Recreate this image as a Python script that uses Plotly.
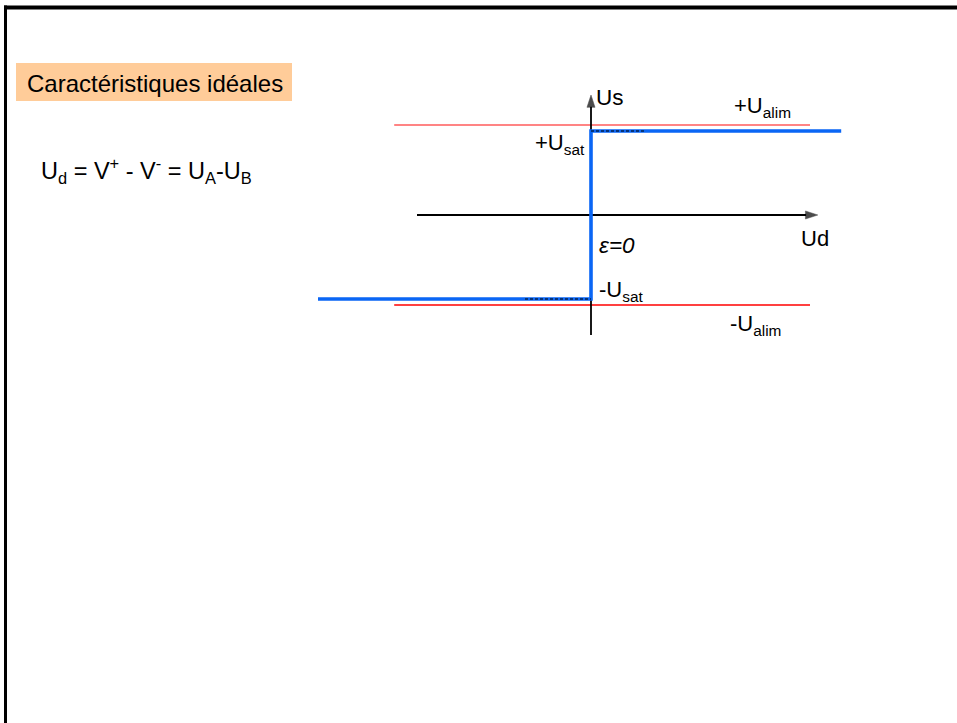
import plotly.graph_objects as go

# ---- data (schematic units: volts) ----
ud_curve = [-45.5, 0, 0, 41.7]        # ideal transfer characteristic Us = f(Ud)
us_curve = [-14, -14, 14, 14]
u_sat = 14
u_alim = 15
alim_x = [-32.8, 36.5]                # extent of supply lines
ud_axis = [-29, 37.8]
us_axis = [-20, 20]
dash_pos_x = [0, 9]
dash_neg_x = [-11, 0]

W, H = 957, 723
OX, OY, S = 591, 215, 6.0             # origin pixel + px per unit (layout only)


def ux(px):
    return (px - OX) / S


def vy(py):
    return (OY - py) / S


FONT = "Liberation Sans, Arial, sans-serif"
fig = go.Figure()

# supply rails
fig.add_trace(go.Scatter(x=alim_x, y=[u_alim, u_alim], mode="lines",
                         line=dict(color="#FF8484", width=2), hoverinfo="skip"))
fig.add_trace(go.Scatter(x=alim_x, y=[-u_alim, -u_alim], mode="lines",
                         line=dict(color="#FF0000", width=1.5), hoverinfo="skip"))

# axes with arrows
arrow_marker = dict(symbol="arrow", size=[0, 13], angleref="previous", color="black",
                    line=dict(width=0.5, color="black"))
fig.add_trace(go.Scatter(x=ud_axis, y=[0, 0], mode="lines+markers",
                         line=dict(color="black", width=1.8),
                         marker=arrow_marker, hoverinfo="skip"))
fig.add_trace(go.Scatter(x=[0, 0], y=us_axis, mode="lines+markers",
                         line=dict(color="black", width=1.8),
                         marker=arrow_marker, hoverinfo="skip"))

# characteristic
fig.add_trace(go.Scatter(x=ud_curve, y=us_curve, mode="lines",
                         line=dict(color="#0A66F5", width=3.6), hoverinfo="skip"))

# dashed saturation marks
fig.add_trace(go.Scatter(x=dash_pos_x, y=[u_sat, u_sat], mode="lines",
                         line=dict(color="black", width=1.1, dash="3px,2px"), hoverinfo="skip"))
fig.add_trace(go.Scatter(x=dash_neg_x, y=[-u_sat, -u_sat], mode="lines",
                         line=dict(color="black", width=1.1, dash="3px,2px"), hoverinfo="skip"))

shapes = [
    # title box
    dict(type="rect", xref="x", yref="y", x0=ux(16), x1=ux(292), y0=vy(63), y1=vy(101),
         fillcolor="#FFCC99", line=dict(width=0), layer="below"),
    # frame
    dict(type="line", xref="paper", yref="paper", x0=4 / W, x1=1, y0=1 - 7.5 / H, y1=1 - 7.5 / H,
         line=dict(color="black", width=4)),
    dict(type="line", xref="paper", yref="paper", x0=5.5 / W, x1=5.5 / W, y0=1 - 5.5 / H, y1=0,
         line=dict(color="black", width=3)),
]


def txt(text, px, py, size=22, anchor="left", italic=False):
    return dict(x=ux(px), y=vy(py), xref="x", yref="y", text=text, showarrow=False,
                xanchor=anchor, yanchor="middle",
                font=dict(family=FONT, size=size, color="black",
                          style="italic" if italic else "normal"))


annotations = [
    txt("Caractéristiques idéales", 25, 83, size=24),
    txt("U<sub>d</sub> = V<sup>+</sup> - V<sup>-</sup> = U<sub>A</sub>-U<sub>B</sub>", 39, 170, size=23.5),
    txt("Us", 594, 97, size=22.5),
    txt("+U<sub>alim</sub>", 732, 107),
    txt("+U<sub>sat</sub>", 587, 144, anchor="right"),
    txt("Ud", 799, 238),
    txt("ε=0", 597, 245, size=22.5, italic=True),
    txt("-U<sub>sat</sub>", 597, 291),
    txt("-U<sub>alim</sub>", 728, 325),
]

fig.update_layout(
    width=W, height=H, margin=dict(l=0, r=0, t=0, b=0),
    paper_bgcolor="white", plot_bgcolor="white", showlegend=False,
    xaxis=dict(range=[ux(0), ux(W)], visible=False, fixedrange=True),
    yaxis=dict(range=[vy(H), vy(0)], visible=False, fixedrange=True),
    shapes=shapes, annotations=annotations,
)

fig.write_html("out.html", config={"displayModeBar": False},
               post_script="document.body.style.margin='0';document.body.style.padding='0';"
                           "document.body.style.overflow='hidden';")
